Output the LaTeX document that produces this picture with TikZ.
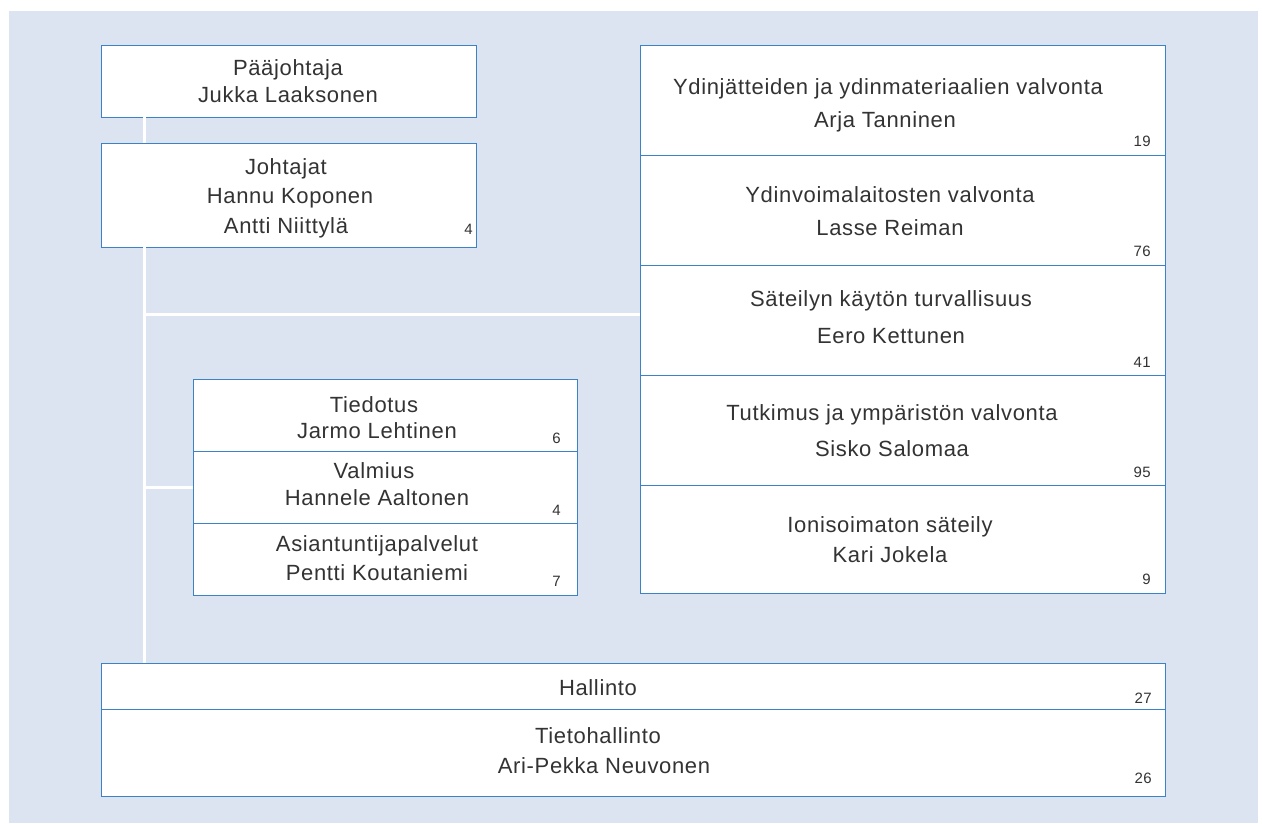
\documentclass[tikz,border=0pt]{standalone}
\usepackage{fontspec}
\setmainfont[LetterSpace=3]{Liberation Sans}
\definecolor{bgc}{HTML}{DCE4F1}
\definecolor{lnc}{HTML}{3C82C8}
\definecolor{txc}{HTML}{333333}
\tikzset{
  unit/.style={draw=lnc, line width=0.8pt, fill=white, rectangle, inner sep=0pt, outer sep=0pt},
  lbl/.style={anchor=base, font=\fontsize{22}{26}\selectfont, text=txc, inner sep=0pt},
  num/.style={anchor=base east, font=\fontsize{15}{18}\selectfont, text=txc, inner sep=0pt},
  conn/.style={draw=white, line width=3pt},
}
\begin{document}
\begin{tikzpicture}[x=1pt,y=-1pt]
\useasboundingbox (0,0) rectangle (1262,823);
\fill[bgc] (9,11) rectangle (1258,823);
% boxes
\node[unit, minimum width=375pt, minimum height=72pt] (paa) at (288.5,81) {};
\node[unit, minimum width=375pt, minimum height=104pt] (joh) at (288.5,195) {};
\node[unit, minimum width=525pt, minimum height=110pt] (r1) at (902.5,100) {};
\node[unit, minimum width=525pt, minimum height=110pt] (r2) at (902.5,210) {};
\node[unit, minimum width=525pt, minimum height=110pt] (r3) at (902.5,320) {};
\node[unit, minimum width=525pt, minimum height=110pt] (r4) at (902.5,430) {};
\node[unit, minimum width=525pt, minimum height=108pt] (r5) at (902.5,539) {};
\node[unit, minimum width=384pt, minimum height=72pt] (s1) at (385,415) {};
\node[unit, minimum width=384pt, minimum height=72pt] (s2) at (385,487) {};
\node[unit, minimum width=384pt, minimum height=72pt] (s3) at (385,559) {};
\node[unit, minimum width=1064pt, minimum height=46pt] (b1) at (633,686) {};
\node[unit, minimum width=1064pt, minimum height=87pt] (b2) at (633,752.5) {};
% connectors
\coordinate (h1) at (144.5,314.5);
\coordinate (h2) at (144.5,487.5);
\draw[conn] ([xshift=43.5pt]paa.south west) -- ([xshift=43.5pt]joh.north west);
\draw[conn] ([xshift=43.5pt]joh.south west) -- ([xshift=43.5pt]b1.north west);
\draw[conn] (h1) -- (h1 -| r3.west);
\draw[conn] (h2) -- (h2 -| s2.west);
% texts
\node[lbl] (t1) at (288,75) {Pääjohtaja};
\node[lbl] (t2) at (288,102) {Jukka Laaksonen};
\node[lbl] (t3) at (286,174) {Johtajat};
\node[lbl] (t4) at (290,203) {Hannu Koponen};
\node[lbl] (t5) at (286,233) {Antti Niittylä};
\node[num] (n1) at (473,234) {4};
\node[lbl] (t6) at (888,94) {Ydinjätteiden ja ydinmateriaalien valvonta};
\node[lbl] (t7) at (885,127) {Arja Tanninen};
\node[num] (n2) at (1151,146) {19};
\node[lbl] (t8) at (890,202) {Ydinvoimalaitosten valvonta};
\node[lbl] (t9) at (890,235) {Lasse Reiman};
\node[num] (n3) at (1151,256) {76};
\node[lbl] (t10) at (891,306) {Säteilyn käytön turvallisuus};
\node[lbl] (t11) at (891,343) {Eero Kettunen};
\node[num] (n4) at (1151,367) {41};
\node[lbl] (t12) at (892,420) {Tutkimus ja ympäristön valvonta};
\node[lbl] (t13) at (892,456) {Sisko Salomaa};
\node[num] (n5) at (1151,477) {95};
\node[lbl] (t14) at (890,532) {Ionisoimaton säteily};
\node[lbl] (t15) at (890,562) {Kari Jokela};
\node[num] (n6) at (1151,584) {9};
\node[lbl] (t16) at (374,412) {Tiedotus};
\node[lbl] (t17) at (377,438) {Jarmo Lehtinen};
\node[num] (n7) at (561,443) {6};
\node[lbl] (t18) at (374,478) {Valmius};
\node[lbl] (t19) at (377,505) {Hannele Aaltonen};
\node[num] (n8) at (561,515) {4};
\node[lbl] (t20) at (377,551) {Asiantuntijapalvelut};
\node[lbl] (t21) at (377,580) {Pentti Koutaniemi};
\node[num] (n9) at (561,586) {7};
\node[lbl] (t22) at (598,695) {Hallinto};
\node[num] (n10) at (1152,703) {27};
\node[lbl] (t23) at (598,743) {Tietohallinto};
\node[lbl] (t24) at (604,773) {Ari-Pekka Neuvonen};
\node[num] (n11) at (1152,783) {26};
\end{tikzpicture}
\end{document}
